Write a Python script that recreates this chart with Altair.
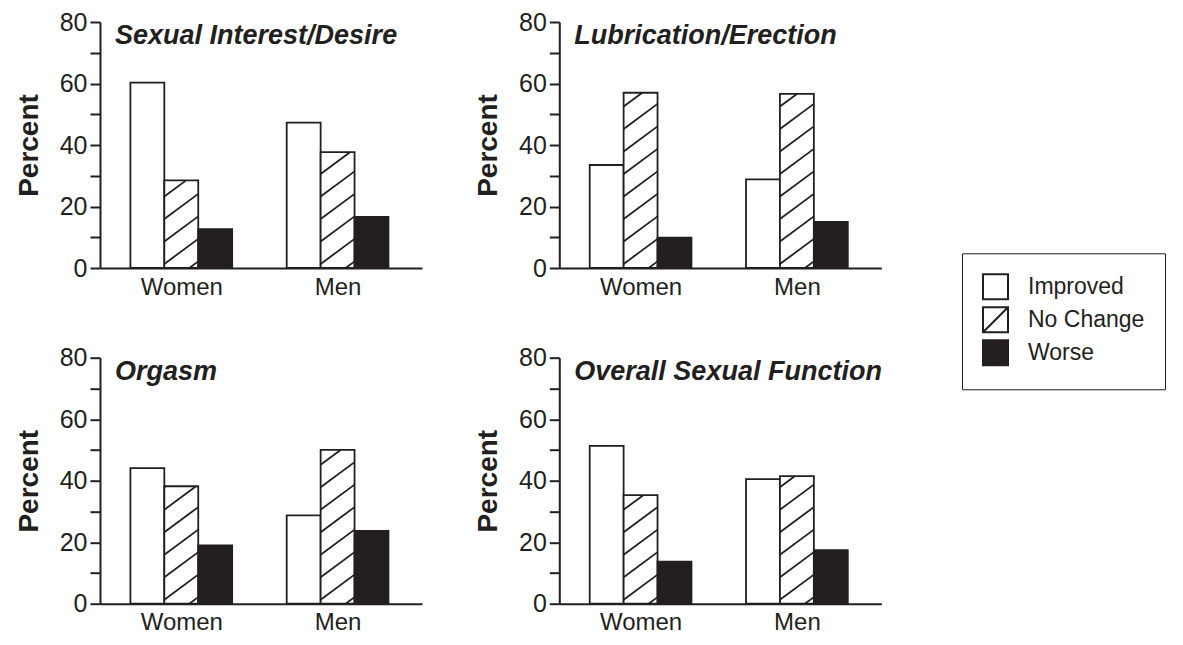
import json
import numpy as np
import pandas as pd
import altair as alt

# ---------------- data ----------------
categories = ["Women", "Men"]
series = ["Improved", "No Change", "Worse"]
panel_titles = ["Sexual Interest/Desire", "Lubrication/Erection",
                "Orgasm", "Overall Sexual Function"]

interest_women = [60.3, 28.5, 12.6]
interest_men = [47.3, 37.7, 16.6]
lubrication_women = [33.5, 57.0, 9.9]
lubrication_men = [28.8, 56.6, 15.0]
orgasm_women = [44.1, 38.2, 19.0]
orgasm_men = [28.7, 50.0, 23.7]
overall_women = [51.3, 35.3, 13.7]
overall_men = [40.5, 41.5, 17.4]

y_ticks = [0, 10, 20, 30, 40, 50, 60, 70, 80]

# ---------------- layout / style ----------------
INK = "#231f20"
FONT = "Liberation Sans"
W, H = 322, 246
X_DOMAIN = [-0.52, 1.54]
Y_MAX = 80
BAR_W = 0.217
PX_X = W / (X_DOMAIN[1] - X_DOMAIN[0])
PX_Y = H / Y_MAX
HATCH_SLOPE = 0.74
HATCH_GAP = 22.5
HATCH_PHASE = 4.0

x_scale = alt.Scale(domain=X_DOMAIN, nice=False, zero=False)
y_scale = alt.Scale(domain=[0, Y_MAX], nice=False)
fill_scale = alt.Scale(domain=series, range=["white", "white", INK])
shape_scale = alt.Scale(domain=series,
                        range=["square", "M-1,-1H1V1H-1ZM-1,1L1,-1", "square"])

x_axis = alt.Axis(values=[0, 1], labelExpr=f"{json.dumps(categories)}[datum.value]",
                  ticks=False, grid=False, domainWidth=2, labelFontSize=24,
                  labelPadding=7, labelFlush=False, title=None)
y_axis = alt.Axis(values=y_ticks, labelExpr="datum.value % 20 === 0 ? datum.label : ''",
                  tickSize=10, tickWidth=2, domainWidth=2, grid=False, labelFontSize=25,
                  labelPadding=3, labelFlush=False, title="Percent", titleFontSize=28,
                  titleFontWeight="bold", titlePadding=16)

legend_def = alt.Legend(
    title=None, orient="none", legendX=402.7, legendY=231.3,
    strokeColor=INK, fillColor="white", padding=20, cornerRadius=0,
    symbolSize=625, symbolStrokeWidth=2, symbolStrokeColor=INK,
    labelFont=FONT, labelFontSize=23, labelColor=INK, labelOffset=19,
    rowPadding=0, labelExpr="datum.label + '\u00a0'",
)


def bar_table(women, men):
    rows = []
    for g, (cat, vals) in enumerate(zip(categories, [women, men])):
        for i, (s, v) in enumerate(zip(series, vals)):
            x0 = g + (i - 1.5) * BAR_W
            rows.append(dict(category=cat, series=s, value=v, x0=x0, x1=x0 + BAR_W))
    return pd.DataFrame(rows)


def hatch_table(bars):
    segs = []
    for _, r in bars[bars.series == "No Change"].iterrows():
        bw = (r.x1 - r.x0) * PX_X
        h = r.value * PX_Y
        k_min = int(np.floor((-HATCH_SLOPE * bw - HATCH_PHASE) / HATCH_GAP))
        k_max = int(np.ceil((h - HATCH_PHASE) / HATCH_GAP))
        for k in range(k_min, k_max + 1):
            b = HATCH_PHASE + k * HATCH_GAP
            xs = max(0.0, -b / HATCH_SLOPE)
            xe = min(bw, (h - b) / HATCH_SLOPE)
            if xe - xs < 0.5:
                continue
            segs.append(dict(hx0=r.x0 + xs / PX_X, hx1=r.x0 + xe / PX_X,
                             hy0=(HATCH_SLOPE * xs + b) / PX_Y,
                             hy1=(HATCH_SLOPE * xe + b) / PX_Y))
    return pd.DataFrame(segs)


def panel(title, women, men, with_legend=False):
    bars = bar_table(women, men)
    hatch = hatch_table(bars)
    legend = legend_def if with_legend else None

    bar_layer = alt.Chart(bars).mark_rect(stroke=INK, strokeWidth=1.8).encode(
        x=alt.X("x0:Q", scale=x_scale, axis=x_axis),
        x2="x1",
        y=alt.Y("value:Q", scale=y_scale, axis=y_axis),
        y2=alt.datum(0),
        fill=alt.Fill("series:N", scale=fill_scale, legend=legend),
    )
    hatch_layer = alt.Chart(hatch).mark_rule(stroke=INK, strokeWidth=1.8).encode(
        x=alt.X("hx0:Q", scale=x_scale, axis=x_axis),
        x2="hx1",
        y=alt.Y("hy0:Q", scale=y_scale, axis=y_axis),
        y2="hy1",
    )
    text_layer = alt.Chart(pd.DataFrame({"title": [title]})).mark_text(
        font=FONT, fontSize=27, fontWeight="bold", fontStyle="italic",
        align="left", baseline="alphabetic", color=INK,
    ).encode(text="title:N", x=alt.value(15), y=alt.value(22))

    layers = [bar_layer, hatch_layer, text_layer]
    if with_legend:
        legend_layer = alt.Chart(bars).transform_filter("false").mark_point(
            filled=True, opacity=1, stroke=INK, strokeWidth=2,
        ).encode(
            fill=alt.Fill("series:N", scale=fill_scale, legend=legend_def),
            shape=alt.Shape("series:N", scale=shape_scale, legend=legend_def),
        )
        layers.append(legend_layer)
    return alt.layer(*layers).properties(width=W, height=H)


data_pairs = [(interest_women, interest_men), (lubrication_women, lubrication_men),
              (orgasm_women, orgasm_men), (overall_women, overall_men)]
panels = [panel(t, w, m, with_legend=(i == 1))
          for i, (t, (w, m)) in enumerate(zip(panel_titles, data_pairs))]

chart = alt.concat(
    *panels, columns=2, spacing={"row": 89.7, "column": 137.3}, bounds="flush"
).resolve_scale(
    fill="independent", shape="independent"
).resolve_legend(
    fill="independent", shape="independent"
).properties(
    padding={"left": 7, "top": 2, "right": 0, "bottom": 0}
).configure_view(
    stroke=None
).configure_axis(
    labelFont=FONT, titleFont=FONT, labelColor=INK, titleColor=INK,
    domainColor=INK, tickColor=INK,
)

chart.save("out.html", embed_options={"renderer": "svg", "actions": False})
